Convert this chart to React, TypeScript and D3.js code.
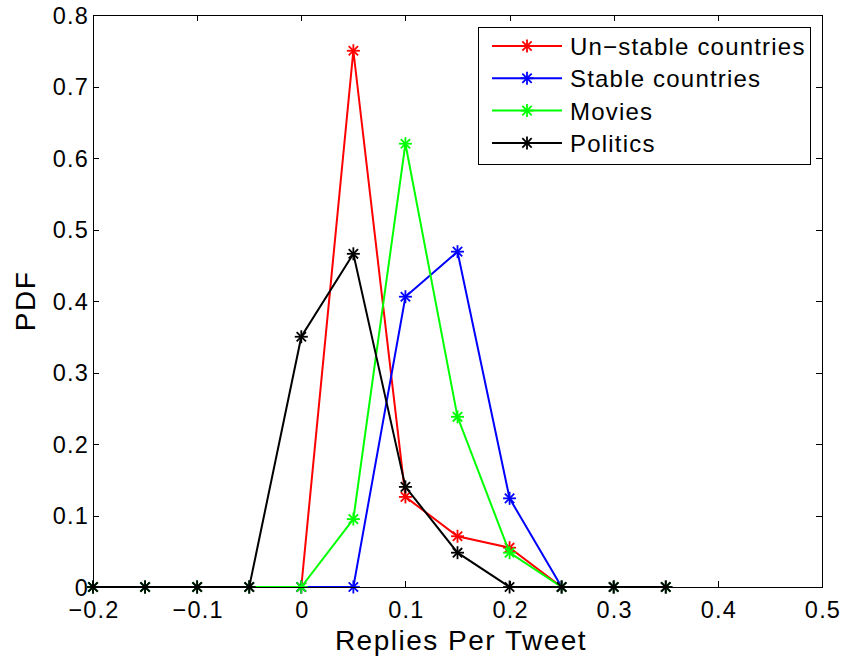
import React, { useEffect, useRef } from "react";
import * as d3 from "d3";

// x positions shared by all series
const xValues = [-0.2, -0.15, -0.1, -0.05, 0, 0.05, 0.1, 0.15, 0.2, 0.25, 0.3, 0.35];

const unstable = [0, 0, 0, 0, 0, 0.75, 0.126, 0.071, 0.055, 0, 0, 0];
const stable = [0, 0, 0, 0, 0, 0, 0.406, 0.469, 0.124, 0, 0, 0];
const movies = [0, 0, 0, 0, 0, 0.095, 0.62, 0.238, 0.048, 0, 0, 0];
const politics = [0, 0, 0, 0, 0.35, 0.466, 0.14, 0.048, 0, 0, 0, 0];

const seriesNames = ["Un\u2212stable countries", "Stable countries", "Movies", "Politics"];
const seriesColors = ["#ff0000", "#0000ff", "#00ff00", "#000000"];

const xTicks = [-0.2, -0.1, 0, 0.1, 0.2, 0.3, 0.4, 0.5];
const yTicks = [0, 0.1, 0.2, 0.3, 0.4, 0.5, 0.6, 0.7, 0.8];

const FONT = "'Liberation Sans', Arial, Helvetica, sans-serif";

const fmt = (v: number) => {
  const s = d3.format("~g")(+v.toFixed(2));
  return s.replace("-", "\u2212");
};

const App = () => {
  const svgRef = useRef<SVGSVGElement>(null);

  useEffect(() => {
    document.body.style.margin = "0";
    const svg = d3.select(svgRef.current);
    svg.selectAll("*").remove();

    const width = 842;
    const height = 662;
    const margin = { top: 15, right: 20, bottom: 75, left: 93 };

    const x = d3.scaleLinear().domain([-0.2, 0.5]).range([margin.left, width - margin.right]);
    const y = d3.scaleLinear().domain([0, 0.8]).range([height - margin.bottom, margin.top]);

    const x0 = x.range()[0];
    const x1 = x.range()[1];
    const y0 = y.range()[0];
    const y1 = y.range()[1];
    const tick = 6;

    svg.append("rect").attr("width", width).attr("height", height).attr("fill", "#fff");

    const axes = svg.append("g").attr("stroke", "#000").attr("stroke-width", 1);

    // ticks on all four sides, pointing inward
    xTicks.forEach((t) => {
      const px = Math.round(x(t)) + 0.5;
      axes.append("line").attr("x1", px).attr("x2", px).attr("y1", y0).attr("y2", y0 - tick);
      axes.append("line").attr("x1", px).attr("x2", px).attr("y1", y1).attr("y2", y1 + tick);
    });
    yTicks.forEach((t) => {
      const py = Math.round(y(t)) + 0.5;
      axes.append("line").attr("x1", x0).attr("x2", x0 + tick).attr("y1", py).attr("y2", py);
      axes.append("line").attr("x1", x1).attr("x2", x1 - tick).attr("y1", py).attr("y2", py);
    });

    // tick labels
    svg
      .append("g")
      .selectAll("text")
      .data(xTicks)
      .enter()
      .append("text")
      .attr("x", (d) => x(d) + 1)
      .attr("y", y0 + 31)
      .attr("text-anchor", "middle")
      .attr("font-family", FONT)
      .attr("font-size", 23.5)
      .attr("letter-spacing", 1.2)
      .text((d) => fmt(d));

    svg
      .append("g")
      .selectAll("text")
      .data(yTicks)
      .enter()
      .append("text")
      .attr("x", x0 - 4)
      .attr("y", (d) => y(d) + 8.5)
      .attr("text-anchor", "end")
      .attr("font-family", FONT)
      .attr("font-size", 23.5)
      .attr("letter-spacing", 1.2)
      .text((d) => fmt(d));

    // axis labels
    svg
      .append("text")
      .attr("x", 461)
      .attr("y", 650)
      .attr("text-anchor", "middle")
      .attr("font-family", FONT)
      .attr("font-size", 28)
      .attr("letter-spacing", 1.5)
      .text("Replies Per Tweet");

    svg
      .append("text")
      .attr("transform", `translate(35, ${(y0 + y1) / 2}) rotate(-90)`)
      .attr("text-anchor", "middle")
      .attr("font-family", FONT)
      .attr("font-size", 28)
      .attr("letter-spacing", 1.5)
      .text("PDF");

    const line = d3
      .line<number>()
      .x((_, i) => x(xValues[i]))
      .y((d) => y(d));

    // asterisk marker: plus + cross
    const star = (g: any, cx: number, cy: number, color: string, r = 6.5) => {
      const d = r * 0.72;
      const m = g.append("g").attr("stroke", color).attr("stroke-width", 1.8);
      m.append("line").attr("x1", cx - r).attr("x2", cx + r).attr("y1", cy).attr("y2", cy);
      m.append("line").attr("x1", cx).attr("x2", cx).attr("y1", cy - r).attr("y2", cy + r);
      m.append("line").attr("x1", cx - d).attr("x2", cx + d).attr("y1", cy - d).attr("y2", cy + d);
      m.append("line").attr("x1", cx - d).attr("x2", cx + d).attr("y1", cy + d).attr("y2", cy - d);
    };

    const allSeries = [unstable, stable, movies, politics];
    allSeries.forEach((vals, si) => {
      const g = svg.append("g");
      g.append("path")
        .datum(vals)
        .attr("fill", "none")
        .attr("stroke", seriesColors[si])
        .attr("stroke-width", 2)
        .attr("stroke-linejoin", "miter")
        .attr("d", line);
      vals.forEach((v, i) => star(g, x(xValues[i]), y(v), seriesColors[si]));
    });

    // frame
    svg
      .append("rect")
      .attr("x", x0 + 0.5)
      .attr("y", y1 + 0.5)
      .attr("width", x1 - x0)
      .attr("height", y0 - y1)
      .attr("fill", "none")
      .attr("stroke", "#000")
      .attr("stroke-width", 1);

    // legend
    const lg = svg.append("g").attr("transform", "translate(478, 27)");
    lg.append("rect")
      .attr("x", 0.5)
      .attr("y", 0.5)
      .attr("width", 332)
      .attr("height", 137)
      .attr("fill", "#fff")
      .attr("stroke", "#000")
      .attr("stroke-width", 1);
    seriesNames.forEach((name, i) => {
      const ry = 19 + i * 32.3;
      lg.append("line")
        .attr("x1", 14)
        .attr("x2", 84)
        .attr("y1", ry)
        .attr("y2", ry)
        .attr("stroke", seriesColors[i])
        .attr("stroke-width", 2);
      star(lg, 49, ry, seriesColors[i]);
      lg.append("text")
        .attr("x", 92)
        .attr("y", ry + 9)
        .attr("font-family", FONT)
        .attr("font-size", 24)
        .attr("letter-spacing", 1.2)
        .text(name);
    });
  }, []);

  return <svg ref={svgRef} width={842} height={662} style={{ display: "block" }} />;
};

export default App;
